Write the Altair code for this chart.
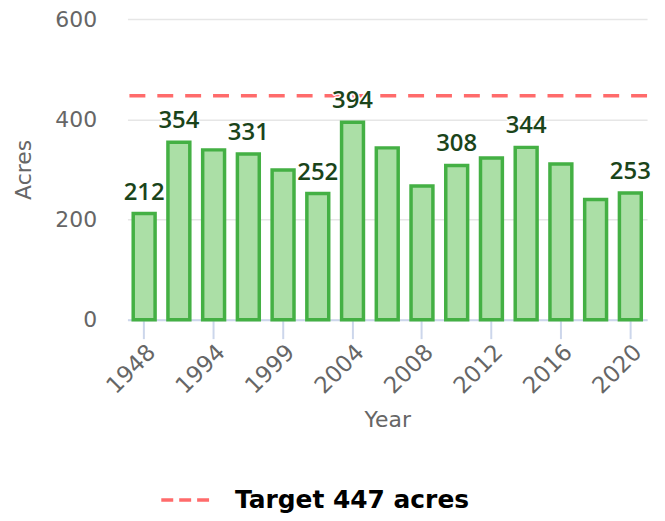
import altair as alt
import pandas as pd

years = ["1948", "1990", "1994", "1997", "1999", "2002", "2004", "2006",
         "2008", "2010", "2012", "2014", "2016", "2018", "2020"]
acres = [212, 354, 339, 331, 299, 252, 394, 343, 267, 308, 323, 344, 311, 240, 253]
shown_labels = ["212", "354", "", "331", "", "252", "394", "", "", "308", "", "344", "", "", "253"]
tick_years = ["1948", "1994", "1999", "2004", "2008", "2012", "2016", "2020"]
y_ticks = [0, 200, 400, 600]
target_value = 447
target_label = "Target 447 acres"

FONT = "DejaVu Sans"
LABEL_FONT = "Open Sans"
GREY = "#666666"

df = pd.DataFrame({"Year": years, "Acres": acres, "label": shown_labels})
tdf = pd.DataFrame({"value": [target_value], "series": [target_label]})

x_enc = alt.X(
    "Year:N", sort=years,
    scale=alt.Scale(paddingInner=0.37, paddingOuter=0.166),
    axis=alt.Axis(
        values=tick_years, labelAngle=-45, labelFontSize=23, labelColor=GREY,
        labelFont=FONT, labelPadding=2, domainColor="#ccd6eb", domainWidth=2,
        tickColor="#ccd6eb", tickSize=19, tickWidth=2, grid=False,
        title="Year", titleFont=FONT, titleFontSize=22, titleColor=GREY,
        titleFontWeight="normal", titlePadding=12,
    ),
)
y_enc = alt.Y(
    "Acres:Q",
    scale=alt.Scale(domain=[0, 600], nice=False),
    axis=alt.Axis(
        values=y_ticks, grid=True, gridColor="#e6e6e6", gridWidth=1.5,
        domain=False, ticks=False, tickSize=0, labelPadding=31,
        labelFontSize=22, labelColor=GREY, labelFont=FONT,
        title="Acres", titleFont=FONT, titleFontSize=22, titleColor=GREY,
        titleFontWeight="normal", titlePadding=19,
    ),
)

base = alt.Chart(df).encode(x=x_enc, y=y_enc)

bars = base.mark_bar(fill="#abdfa6", stroke="#44b044", strokeWidth=3.5)

halo = base.mark_text(
    baseline="alphabetic", dy=-14, font=LABEL_FONT, fontSize=24, fontWeight=600,
    fill="white", stroke="white", strokeWidth=3, strokeJoin="round",
).encode(text="label:N")

labels = base.mark_text(
    baseline="alphabetic", dy=-14, font=LABEL_FONT, fontSize=24, fontWeight=600,
    color="#1a441a",
).encode(text="label:N")

rule = alt.Chart(tdf).mark_rule(strokeDash=[16, 12], strokeWidth=3.5).encode(
    y=alt.Y("value:Q"),
    color=alt.Color(
        "series:N",
        scale=alt.Scale(domain=[target_label], range=["#ff6b6b"]),
        legend=alt.Legend(
            title=None, orient="none", legendX=32, legendY=457,
            symbolType="stroke", symbolSize=2304, symbolStrokeWidth=3.5,
            symbolDash=[12, 6], labelFont=FONT, labelFontSize=25,
            labelFontWeight="bold", labelColor="#000000", labelOffset=24,
            labelLimit=500, padding=0,
        ),
    ),
)

chart = alt.layer(bars, rule, halo, labels).properties(
    width=522, height=302,
    autosize=alt.AutoSizeParams(type="none"),
    padding={"left": 120, "top": 10, "right": 10, "bottom": 193},
).configure_view(stroke=None)

chart.save("out.html", embed_options={"renderer": "svg", "actions": False})
